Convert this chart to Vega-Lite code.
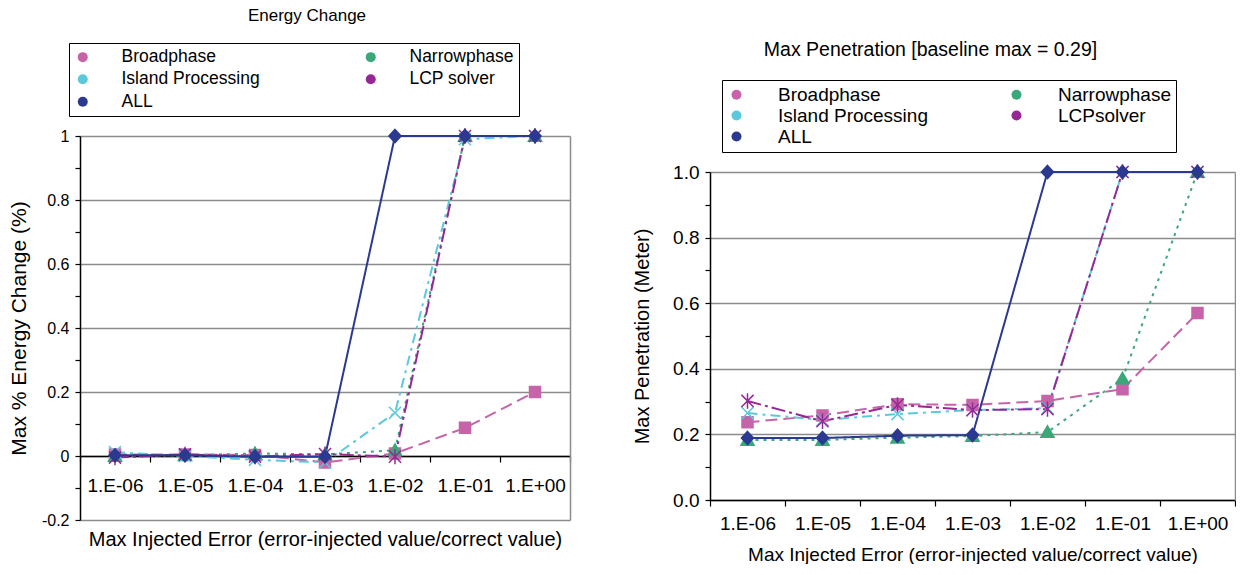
{
  "$schema": "https://vega.github.io/schema/vega-lite/v6.json",
  "padding": {"left": 8, "top": 6, "right": 0, "bottom": 0},
  "config": {
    "font": "Liberation Sans",
    "view": {"stroke": null},
    "axis": {"domainColor": "black", "domainWidth": 1.5, "tickColor": "black", "tickWidth": 1.2, "labelColor": "black", "titleColor": "black", "titleFontWeight": "normal", "gridColor": "#8c8c8c", "gridWidth": 1.5},
    "title": {"fontWeight": "normal", "color": "black"},
    "concat": {"spacing": 61}
  },
  "resolve": {
    "scale": {"fill": "independent", "stroke": "independent", "shape": "independent", "strokeDash": "independent"},
    "legend": {"fill": "independent", "stroke": "independent", "shape": "independent", "strokeDash": "independent"}
  },
  "datasets": {
    "energy": [
      {"err": "1.E-06", "series": "Broadphase", "value": 0.005},
      {"err": "1.E-05", "series": "Broadphase", "value": 0.005},
      {"err": "1.E-04", "series": "Broadphase", "value": 0.003},
      {"err": "1.E-03", "series": "Broadphase", "value": -0.02},
      {"err": "1.E-02", "series": "Broadphase", "value": 0.008},
      {"err": "1.E-01", "series": "Broadphase", "value": 0.088},
      {"err": "1.E+00", "series": "Broadphase", "value": 0.2},
      {"err": "1.E-06", "series": "Narrowphase", "value": 0.0},
      {"err": "1.E-05", "series": "Narrowphase", "value": 0.002},
      {"err": "1.E-04", "series": "Narrowphase", "value": 0.008},
      {"err": "1.E-03", "series": "Narrowphase", "value": 0.005},
      {"err": "1.E-02", "series": "Narrowphase", "value": 0.018},
      {"err": "1.E-01", "series": "Narrowphase", "value": 1.0},
      {"err": "1.E+00", "series": "Narrowphase", "value": 1.0},
      {"err": "1.E-06", "series": "Island Processing", "value": 0.012},
      {"err": "1.E-05", "series": "Island Processing", "value": 0.0},
      {"err": "1.E-04", "series": "Island Processing", "value": -0.012},
      {"err": "1.E-03", "series": "Island Processing", "value": -0.02},
      {"err": "1.E-02", "series": "Island Processing", "value": 0.135},
      {"err": "1.E-01", "series": "Island Processing", "value": 0.99},
      {"err": "1.E+00", "series": "Island Processing", "value": 1.0},
      {"err": "1.E-06", "series": "LCP solver", "value": -0.005},
      {"err": "1.E-05", "series": "LCP solver", "value": 0.005},
      {"err": "1.E-04", "series": "LCP solver", "value": -0.002},
      {"err": "1.E-03", "series": "LCP solver", "value": 0.006},
      {"err": "1.E-02", "series": "LCP solver", "value": -0.002},
      {"err": "1.E-01", "series": "LCP solver", "value": 1.0},
      {"err": "1.E+00", "series": "LCP solver", "value": 1.0},
      {"err": "1.E-06", "series": "ALL", "value": 0.002},
      {"err": "1.E-05", "series": "ALL", "value": 0.002},
      {"err": "1.E-04", "series": "ALL", "value": -0.002},
      {"err": "1.E-03", "series": "ALL", "value": -0.002},
      {"err": "1.E-02", "series": "ALL", "value": 1.0},
      {"err": "1.E-01", "series": "ALL", "value": 1.0},
      {"err": "1.E+00", "series": "ALL", "value": 1.0}
    ],
    "penetration": [
      {"err": "1.E-06", "series": "Broadphase", "value": 0.237},
      {"err": "1.E-05", "series": "Broadphase", "value": 0.258},
      {"err": "1.E-04", "series": "Broadphase", "value": 0.292},
      {"err": "1.E-03", "series": "Broadphase", "value": 0.29},
      {"err": "1.E-02", "series": "Broadphase", "value": 0.302},
      {"err": "1.E-01", "series": "Broadphase", "value": 0.338},
      {"err": "1.E+00", "series": "Broadphase", "value": 0.57},
      {"err": "1.E-06", "series": "Narrowphase", "value": 0.183},
      {"err": "1.E-05", "series": "Narrowphase", "value": 0.183},
      {"err": "1.E-04", "series": "Narrowphase", "value": 0.19},
      {"err": "1.E-03", "series": "Narrowphase", "value": 0.195},
      {"err": "1.E-02", "series": "Narrowphase", "value": 0.207},
      {"err": "1.E-01", "series": "Narrowphase", "value": 0.37},
      {"err": "1.E+00", "series": "Narrowphase", "value": 1.0},
      {"err": "1.E-06", "series": "Island Processing", "value": 0.265},
      {"err": "1.E-05", "series": "Island Processing", "value": 0.244},
      {"err": "1.E-04", "series": "Island Processing", "value": 0.262},
      {"err": "1.E-03", "series": "Island Processing", "value": 0.274},
      {"err": "1.E-02", "series": "Island Processing", "value": 0.28},
      {"err": "1.E-01", "series": "Island Processing", "value": 1.0},
      {"err": "1.E+00", "series": "Island Processing", "value": 1.0},
      {"err": "1.E-06", "series": "LCPsolver", "value": 0.302},
      {"err": "1.E-05", "series": "LCPsolver", "value": 0.24},
      {"err": "1.E-04", "series": "LCPsolver", "value": 0.29},
      {"err": "1.E-03", "series": "LCPsolver", "value": 0.274},
      {"err": "1.E-02", "series": "LCPsolver", "value": 0.277},
      {"err": "1.E-01", "series": "LCPsolver", "value": 1.0},
      {"err": "1.E+00", "series": "LCPsolver", "value": 1.0},
      {"err": "1.E-06", "series": "ALL", "value": 0.189},
      {"err": "1.E-05", "series": "ALL", "value": 0.189},
      {"err": "1.E-04", "series": "ALL", "value": 0.196},
      {"err": "1.E-03", "series": "ALL", "value": 0.198},
      {"err": "1.E-02", "series": "ALL", "value": 1.0},
      {"err": "1.E-01", "series": "ALL", "value": 1.0},
      {"err": "1.E+00", "series": "ALL", "value": 1.0}
    ]
  },
  "hconcat": [
    {
      "width": 490,
      "height": 384,
      "data": {"name": "energy"},
      "title": {"text": "Energy Change", "fontSize": 17, "frame": "group", "dx": -18, "offset": 18},
      "resolve": {"axis": {"y": "independent"}},
      "encoding": {
        "x": {"field": "err", "type": "ordinal", "sort": null,
          "scale": {"type": "band", "paddingInner": 0, "paddingOuter": 0},
          "axis": {"title": "Max Injected Error (error-injected value/correct value)", "offset": -64, "tickBand": "extent", "tickSize": 6, "labelFontSize": 19, "labelPadding": 14, "labelAngle": 0, "titleFontSize": 20, "titlePadding": 34}}
      },
      "layer": [
        {
          "mark": {"type": "line", "strokeWidth": 2},
          "encoding": {
            "y": {"field": "value", "type": "quantitative",
              "scale": {"domain": [-0.2, 1.0], "nice": false, "zero": false},
              "axis": {"title": "Max % Energy Change (%)", "values": [-0.2, -0.1, 0, 0.1, 0.2, 0.3, 0.4, 0.5, 0.6, 0.7, 0.8, 0.9, 1.0],
                "labelExpr": "round(datum.value*10)%2==0 ? toString(round(datum.value*10)/10) : ''",
                "gridOpacity": {"condition": {"test": "round(datum.value*10)%2!=0", "value": 0}, "value": 1},
                "tickSize": 5, "labelFontSize": 16, "labelPadding": 6, "titleFontSize": 21, "titlePadding": 12}},
            "stroke": {"field": "series", "type": "nominal", "legend": null,
              "scale": {"domain": ["ALL", "LCP solver", "Island Processing", "Narrowphase", "Broadphase"], "range": ["#2B3990", "#962896", "#5CC8DC", "#3AA878", "#C764A9"]}},
            "strokeDash": {"field": "series", "type": "nominal", "legend": null,
              "scale": {"domain": ["ALL", "LCP solver", "Island Processing", "Narrowphase", "Broadphase"], "range": [[1, 0], [14, 4, 3, 4], [10, 5, 3, 5], [3, 5], [12, 6]]}}
          }
        },
        {
          "mark": {"type": "point", "filled": true, "opacity": 1, "strokeWidth": 1.5, "size": 121},
          "encoding": {
            "y": {"field": "value", "type": "quantitative",
              "axis": {"orient": "right", "labels": false, "ticks": false, "grid": false, "title": null, "domainColor": "#8c8c8c", "domainWidth": 1.5}},
            "stroke": {"field": "series", "type": "nominal", "legend": null},
            "shape": {"field": "series", "type": "nominal", "legend": null,
              "scale": {"domain": ["ALL", "LCP solver", "Island Processing", "Narrowphase", "Broadphase"],
                "range": ["M0,-1.2L1.1,0L0,1.2L-1.1,0Z", "M-1.1,-1.1L1.1,1.1M-1.1,1.1L1.1,-1.1M0,-1.4V1.4", "M-1.1,-1.1L1.1,1.1M-1.1,1.1L1.1,-1.1", "M0,-1.15L1.2,0.95H-1.2Z", "M-1,-1H1V1H-1Z"]}},
            "fill": {"field": "series", "type": "nominal",
              "scale": {"domain": ["Broadphase", "Narrowphase", "Island Processing", "LCP solver", "ALL"], "range": ["#C764A9", "#3AA878", "#5CC8DC", "#962896", "#2B3990"]},
              "legend": {"orient": "none", "legendX": -11, "legendY": -93, "title": null, "columns": 2, "direction": "horizontal",
                "labelFontSize": 17.5, "labelColor": "black", "labelLimit": 500, "symbolSize": 100, "symbolStrokeWidth": 2,
                "labelOffset": 30, "columnPadding": 102, "rowPadding": 3.5, "padding": 5, "strokeColor": "black", "fillColor": "white",
                "labelExpr": "(datum.label == 'Narrowphase' || datum.label == 'LCP solver') ? datum.label + '\u00a0\u00a0\u00a0\u00a0\u00a0\u00a0\u00a0\u00a0\u00a0\u00a0\u00a0\u00a0\u00a0\u00a0\u00a0\u00a0\u00a0\u00a0\u00a0\u00a0\u00a0' : datum.label",
                "encode": {"symbols": {
                  "shape": {"condition": [
                    {"test": "datum.value === 'Broadphase'", "value": "M-9.2,0M-6,0H-3.5M-1.15,-1.15H1.15V1.15H-1.15ZM2.3,0H5"},
                    {"test": "datum.value === 'Narrowphase'", "value": "M-9.2,0M-6,0H-5.4M-4.8,0H-4.2M-3.6,0H-3M-2.4,0H-1.8M0,-1.35L1.4,1.1H-1.4ZM1.8,0H2.4M3,0H3.6M4.2,0H4.8M5.4,0H6"},
                    {"test": "datum.value === 'Island Processing'", "value": "M-9.2,0M-6,0H-3.6M-2.6,0H-2M-1.25,-1.25L1.25,1.25M-1.25,1.25L1.25,-1.25M2,0H2.6M3.6,0H5.4"},
                    {"test": "datum.value === 'LCP solver'", "value": "M-9.2,0M-6,0H-3.4M-2.4,0H-1.8M-1.2,-1.2L1.2,1.2M-1.2,1.2L1.2,-1.2M0,-1.5V1.5M1.8,0H2.4M3.4,0H6"}
                  ], "value": "M-9.2,0M-6,0H6M0,-1.35L1.25,0L0,1.35L-1.25,0Z"},
                  "stroke": {"condition": [
                    {"test": "datum.value === 'Broadphase'", "value": "#C764A9"},
                    {"test": "datum.value === 'Narrowphase'", "value": "#3AA878"},
                    {"test": "datum.value === 'Island Processing'", "value": "#5CC8DC"},
                    {"test": "datum.value === 'LCP solver'", "value": "#962896"}
                  ], "value": "#2B3990"},
                  "strokeWidth": {"value": 2}
                }}}
            }
          }
        }
      ]
    },
    {
      "width": 525,
      "height": 364,
      "data": {"name": "penetration"},
      "title": {"text": "Max Penetration [baseline max = 0.29]", "fontSize": 19.5, "frame": "group", "dx": -42, "offset": 19},
      "resolve": {"axis": {"y": "independent"}},
      "encoding": {
        "x": {"field": "err", "type": "ordinal", "sort": null,
          "scale": {"type": "band", "paddingInner": 0, "paddingOuter": 0},
          "axis": {"title": "Max Injected Error (error-injected value/correct value)", "tickBand": "extent", "tickSize": 6, "labelFontSize": 19, "labelPadding": 8, "labelAngle": 0, "titleFontSize": 19, "titlePadding": 12}}
      },
      "layer": [
        {
          "mark": {"type": "line", "strokeWidth": 2},
          "encoding": {
            "y": {"field": "value", "type": "quantitative",
              "scale": {"domain": [0, 1.0], "range": [364, 36], "nice": false, "zero": false},
              "axis": {"title": "Max Penetration (Meter)", "values": [0, 0.1, 0.2, 0.3, 0.4, 0.5, 0.6, 0.7, 0.8, 0.9, 1.0],
                "labelExpr": "round(datum.value*10)%2==0 ? format(datum.value, '.1f') : ''",
                "gridOpacity": {"condition": {"test": "round(datum.value*10)%2!=0", "value": 0}, "value": 1},
                "tickSize": 5, "labelFontSize": 19, "labelPadding": 6, "titleFontSize": 20, "titlePadding": 20}},
            "stroke": {"field": "series", "type": "nominal", "legend": null,
              "scale": {"domain": ["ALL", "LCPsolver", "Island Processing", "Narrowphase", "Broadphase"], "range": ["#2B3990", "#962896", "#5CC8DC", "#3AA878", "#C764A9"]}},
            "strokeDash": {"field": "series", "type": "nominal", "legend": null,
              "scale": {"domain": ["ALL", "LCPsolver", "Island Processing", "Narrowphase", "Broadphase"], "range": [[1, 0], [14, 4, 3, 4], [10, 5, 3, 5], [3, 5], [12, 6]]}}
          }
        },
        {
          "mark": {"type": "point", "filled": true, "opacity": 1, "strokeWidth": 1.5, "size": 121},
          "encoding": {
            "y": {"field": "value", "type": "quantitative",
              "axis": {"orient": "right", "labels": false, "ticks": false, "grid": false, "title": null, "domainColor": "#8c8c8c", "domainWidth": 1.5}},
            "stroke": {"field": "series", "type": "nominal", "legend": null},
            "shape": {"field": "series", "type": "nominal", "legend": null,
              "scale": {"domain": ["ALL", "LCPsolver", "Island Processing", "Narrowphase", "Broadphase"],
                "range": ["M0,-1.2L1.1,0L0,1.2L-1.1,0Z", "M-1.1,-1.1L1.1,1.1M-1.1,1.1L1.1,-1.1M0,-1.4V1.4", "M-1.1,-1.1L1.1,1.1M-1.1,1.1L1.1,-1.1", "M0,-1.15L1.2,0.95H-1.2Z", "M-1,-1H1V1H-1Z"]}},
            "fill": {"field": "series", "type": "nominal",
              "scale": {"domain": ["Broadphase", "Narrowphase", "Island Processing", "LCPsolver", "ALL"], "range": ["#C764A9", "#3AA878", "#5CC8DC", "#962896", "#2B3990"]},
              "legend": {"orient": "none", "legendX": 12, "legendY": -56, "title": null, "columns": 2, "direction": "horizontal",
                "labelFontSize": 19, "labelColor": "black", "labelLimit": 500, "symbolSize": 100, "symbolStrokeWidth": 2,
                "labelOffset": 32, "columnPadding": 79, "rowPadding": 1, "padding": 5, "strokeColor": "black", "fillColor": "white",
                "labelExpr": "(datum.label == 'Narrowphase' || datum.label == 'LCPsolver') ? datum.label + '\u00a0\u00a0\u00a0\u00a0\u00a0\u00a0\u00a0\u00a0\u00a0\u00a0\u00a0\u00a0\u00a0\u00a0\u00a0\u00a0\u00a0\u00a0\u00a0' : datum.label",
                "encode": {"symbols": {
                  "shape": {"condition": [
                    {"test": "datum.value === 'Broadphase'", "value": "M-8.2,0M-6,0H-3.5M-1.3,-1.3H1.3V1.3H-1.3ZM2.4,0H5.4"},
                    {"test": "datum.value === 'Narrowphase'", "value": "M-8.2,0M-6,0H-5.4M-4.8,0H-4.2M-3.6,0H-3M-2.4,0H-1.8M0,-1.4L1.4,1.1H-1.4ZM1.8,0H2.4M3,0H3.6M4.2,0H4.8M5.4,0H6"},
                    {"test": "datum.value === 'Island Processing'", "value": "M-8.2,0M-6,0H-3.6M-2.6,0H-2M-1.3,-1.3L1.3,1.3M-1.3,1.3L1.3,-1.3M2,0H2.6M3.6,0H5.4"},
                    {"test": "datum.value === 'LCPsolver'", "value": "M-8.2,0M-6,0H-3.4M-2.4,0H-1.8M-1.2,-1.2L1.2,1.2M-1.2,1.2L1.2,-1.2M0,-1.5V1.5M1.8,0H2.4M3.4,0H6"}
                  ], "value": "M-8.2,0M-6,0H6M0,-1.4L1.3,0L0,1.4L-1.3,0Z"},
                  "stroke": {"condition": [
                    {"test": "datum.value === 'Broadphase'", "value": "#C764A9"},
                    {"test": "datum.value === 'Narrowphase'", "value": "#3AA878"},
                    {"test": "datum.value === 'Island Processing'", "value": "#5CC8DC"},
                    {"test": "datum.value === 'LCPsolver'", "value": "#962896"}
                  ], "value": "#2B3990"},
                  "strokeWidth": {"value": 2}
                }}}
            }
          }
        }
      ]
    }
  ]
}
